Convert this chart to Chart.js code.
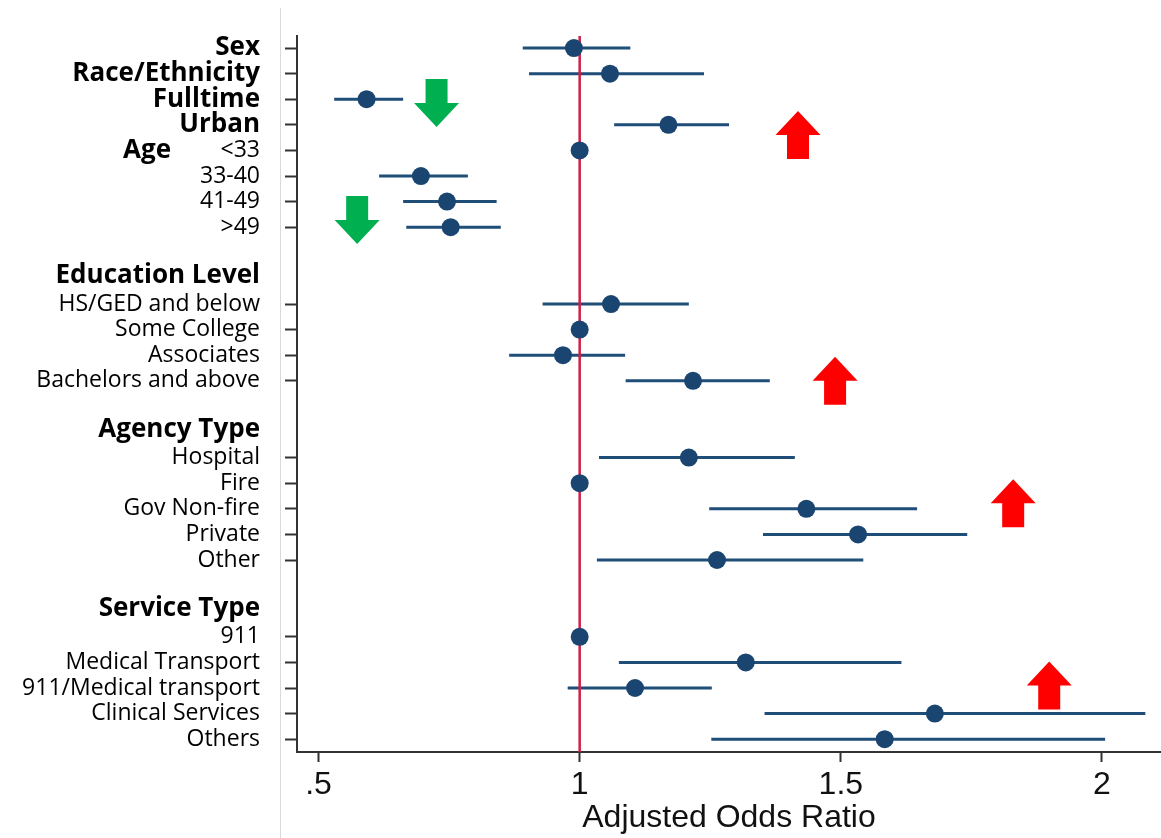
<!DOCTYPE html>
<html><head><meta charset="utf-8">
<script src="https://cdn.jsdelivr.net/npm/chart.js@4.4.0/dist/chart.umd.min.js"></script>
<style>html,body{margin:0;padding:0;background:#fff;overflow:hidden}#wrap{width:1161px;height:838px;position:relative}</style>
</head><body><div id="wrap"><canvas id="c"></canvas></div>
<script>
// ---- data ----
const rowLabels = ['Sex','Race/Ethnicity','Fulltime','Urban','<33','33-40','41-49','>49',
  'HS/GED and below','Some College','Associates','Bachelors and above',
  'Hospital','Fire','Gov Non-fire','Private','Other',
  '911','Medical Transport','911/Medical transport','Clinical Services','Others'];
const rowPositions = [0,1,2,3,4,5,6,7,10,11,12,13,16,17,18,19,20,23,24,25,26,27];
const oddsRatio = [0.989,1.058,0.592,1.170,1,0.696,0.746,0.753,1.060,1,0.968,1.217,1.209,1,1.434,1.533,1.263,1,1.318,1.106,1.680,1.584];
const ciLower = [0.891,0.903,0.530,1.066,null,0.616,0.662,0.668,0.929,null,0.865,1.088,1.037,null,1.248,1.351,1.033,null,1.075,0.977,1.354,1.252];
const ciUpper = [1.097,1.238,0.662,1.286,null,0.786,0.841,0.849,1.209,null,1.087,1.364,1.412,null,1.646,1.742,1.543,null,1.616,1.253,2.083,2.006];
const boldRows = ['Sex','Race/Ethnicity','Fulltime','Urban'];
const groupHeaders = ['Education Level','Agency Type','Service Type'];
const headerPositions = [8.9,14.9,21.9];
const sideLabel = 'Age';
const sideLabelRow = 4;
const xTicks = [0.5,1,1.5,2];
const xTickLabels = ['.5','1','1.5','2'];
const referenceValue = 1;
const arrowX = [0.726,0.574,1.418,1.489,1.830,1.899];
const arrowRow = [2.15,6.72,3.40,13.0,17.78,24.9];
const arrowDir = ['down','down','up','up','up','up'];

// ---- config ----
const Y_MIN = -0.47, Y_MAX = 27.5;
const allPos = rowPositions.concat(headerPositions);
const allLab = rowLabels.concat(groupHeaders);
const REG_FONT = {family:'Open Sans', size:23, weight:'normal'};
const BOLD_FONT = {family:'Open Sans', size:26, weight:'bold'};
const POINT_COL = '#1a4570', LINE_COL = '#1f4e79';

const datasets = [];
datasets.push({type:'scatter', label:'AOR', data: rowPositions.map((r,i)=>({x:oddsRatio[i], y:r})),
  pointRadius:9, pointHoverRadius:9, backgroundColor:POINT_COL, borderColor:POINT_COL, borderWidth:0, order:0});
datasets.push({type:'line', label:'ref', data:[{x:referenceValue,y:Y_MIN},{x:referenceValue,y:Y_MAX}],
  borderColor:'#d01f45', borderWidth:2.5, pointRadius:0, order:1});
rowPositions.forEach((r,i)=>{
  if (ciLower[i]==null) return;
  datasets.push({type:'line', label:'ci'+i, data:[{x:ciLower[i],y:r},{x:ciUpper[i],y:r}],
    borderColor:LINE_COL, borderWidth:3, pointRadius:0, order:2});
});

const decor = {
  id:'decor',
  beforeDraw(chart){
    const c = chart.ctx;
    c.save(); c.strokeStyle='#d9d9d9'; c.lineWidth=1;
    c.beginPath(); c.moveTo(280.5,8); c.lineTo(280.5,838); c.stroke(); c.restore();
  },
  afterDraw(chart){
    const c = chart.ctx, xs = chart.scales.x, ys = chart.scales.y;
    c.save();
    c.font = 'bold 26px "Open Sans"'; c.fillStyle='#000'; c.textAlign='right'; c.textBaseline='middle';
    c.fillText(sideLabel, chart.chartArea.left-126, ys.getPixelForValue(sideLabelRow));
    arrowX.forEach((v,i)=>{
      const cx = xs.getPixelForValue(v), cy = ys.getPixelForValue(arrowRow[i]);
      const hw = 22.5, hh = 24, sw = 11, sh = 24;
      c.fillStyle = arrowDir[i]==='down' ? '#00b050' : '#ff0000';
      c.beginPath();
      if (arrowDir[i]==='down'){
        c.moveTo(cx-sw, cy-sh); c.lineTo(cx+sw, cy-sh); c.lineTo(cx+sw, cy);
        c.lineTo(cx+hw, cy); c.lineTo(cx, cy+hh); c.lineTo(cx-hw, cy); c.lineTo(cx-sw, cy);
      } else {
        c.moveTo(cx-sw, cy+sh); c.lineTo(cx+sw, cy+sh); c.lineTo(cx+sw, cy);
        c.lineTo(cx+hw, cy); c.lineTo(cx, cy-hh); c.lineTo(cx-hw, cy); c.lineTo(cx-sw, cy);
      }
      c.closePath(); c.fill();
    });
    c.restore();
  }
};

new Chart(document.getElementById('c'), {
  data:{datasets},
  options:{
    responsive:true, maintainAspectRatio:false, animation:false,
    layout:{autoPadding:false, padding:{top:36,left:0,right:0,bottom:0}},
    plugins:{legend:{display:false}, tooltip:{enabled:false}},
    scales:{
      x:{type:'linear', position:'bottom', min:0.4588, max:2.113,
        afterBuildTicks(s){ s.ticks = xTicks.map(v=>({value:v})); },
        afterFit(s){ s.height = 86; s.paddingLeft = 0; s.paddingRight = 0; },
        ticks:{autoSkip:false, padding:4, color:'#111', font:{family:'Liberation Sans', size:32},
          callback:(v)=> xTickLabels[xTicks.indexOf(v)] },
        grid:{drawOnChartArea:false, drawTicks:true, tickLength:10, tickWidth:2, tickColor:'#333'},
        border:{display:true, color:'#333', width:2},
        title:{display:true, text:'Adjusted Odds Ratio', color:'#111', font:{family:'Liberation Sans', size:32}, padding:{top:0,bottom:1}}
      },
      y:{type:'linear', reverse:true, min:Y_MIN, max:Y_MAX,
        afterBuildTicks(s){ s.ticks = allPos.map(v=>({value:v})); },
        afterFit(s){ s.width = 297; s.paddingTop = 0; s.paddingBottom = 0; },
        ticks:{autoSkip:false, padding:25, color:'#000',
          font:(ctx)=>{ const l = allLab[allPos.indexOf(ctx.tick && ctx.tick.value)];
            return (boldRows.includes(l)||groupHeaders.includes(l)) ? BOLD_FONT : REG_FONT; },
          callback:(v)=> allLab[allPos.indexOf(v)] },
        grid:{drawOnChartArea:false, drawTicks:true, tickLength:12, tickWidth:2,
          tickColor:(ctx)=> headerPositions.includes(ctx.tick && ctx.tick.value) ? 'rgba(0,0,0,0)' : '#333'},
        border:{display:true, color:'#333', width:2}
      }
    }
  },
  plugins:[decor]
});
</script></body></html>
